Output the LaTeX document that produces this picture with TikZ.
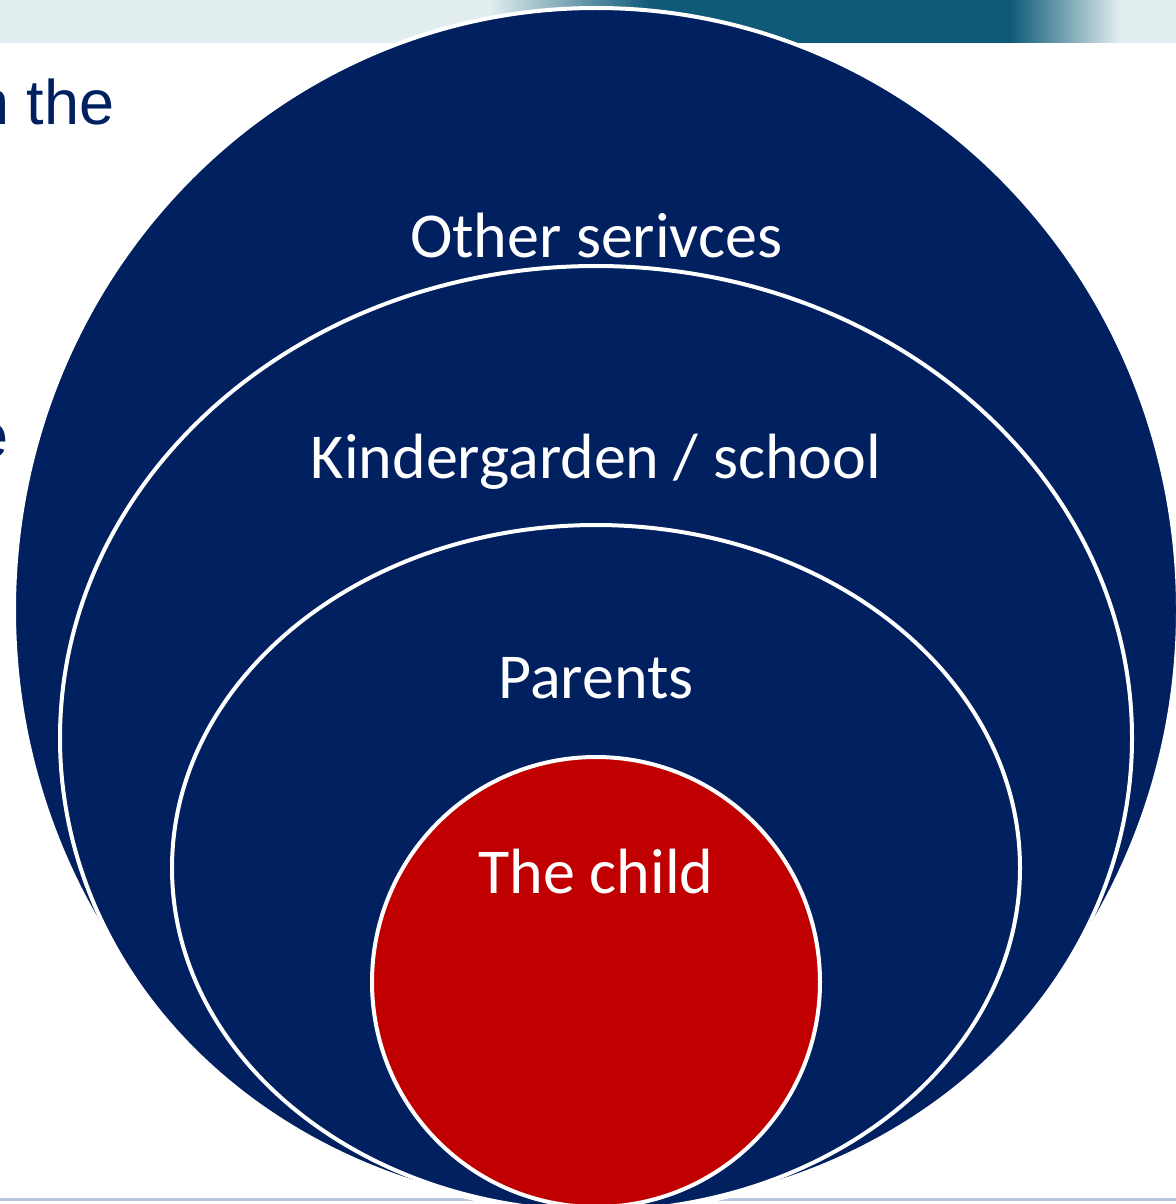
\documentclass[tikz,border=0pt]{standalone}
\usepackage{fontspec}
\setmainfont{Carlito}
\newfontfamily\slidefont{Liberation Sans}
\usepackage{tikz}
\usetikzlibrary{shapes.geometric}

\definecolor{navyblue}{RGB}{0,32,96}
\definecolor{childred}{RGB}{192,0,0}
\definecolor{bandlight}{RGB}{225,237,239}
\definecolor{bandteal}{RGB}{14,90,120}
\definecolor{footline}{RGB}{184,196,224}

\begin{document}
\begin{tikzpicture}[x=0.5pt, y=-0.5pt,
        ring/.style={ellipse, draw=white, line width=2pt, fill=navyblue, inner sep=0pt},
        ringlabel/.style={anchor=base, inner sep=0pt, text=white, font=\fontsize{32}{35}\selectfont},
        slidetext/.style={anchor=base east, inner sep=0pt, text=navyblue, font=\slidefont\fontsize{31.5}{34}\selectfont}]

        \useasboundingbox (0,0) rectangle (1176,1204);
        \clip (0,0) rectangle (1176,1204);

        % header band of the slide
        \fill[bandlight] (0,0) rectangle (1176,43);
        \shade[left color=bandlight, right color=bandteal] (490,0) rectangle (650,43);
        \fill[bandteal] (650,0) rectangle (1010,43);
        \shade[left color=bandteal, right color=bandlight] (1010,0) rectangle (1120,43);

        % slide text under the diagram
        \node[slidetext] (titletext) at (115,125) {n the};
        \node[slidetext] (bodytext) at (9,457) {e};

        \draw[footline, line width=1.5pt] (0,1199) -- (1176,1199);

        \node[ring, minimum width=582pt, minimum height=602pt] (other) at (596,610) {};
        \node[ring, minimum width=536pt, minimum height=472pt] (school) at (596,738) {};
        \node[ring, minimum width=424pt, minimum height=343pt] (parents) at (596,868) {};
        \node[ring, fill=childred, minimum width=224pt, minimum height=225pt] (child) at (596,982) {};

        \node[ringlabel] (otherlabel) at (596,257) {Other serivces};
        \node[ringlabel] (schoollabel) at (596,478) {Kindergarden / school};
        \node[ringlabel] (parentslabel) at (596,698) {Parents};
        \node[ringlabel] (childlabel) at (596,893) {The child};

\end{tikzpicture}
\end{document}
